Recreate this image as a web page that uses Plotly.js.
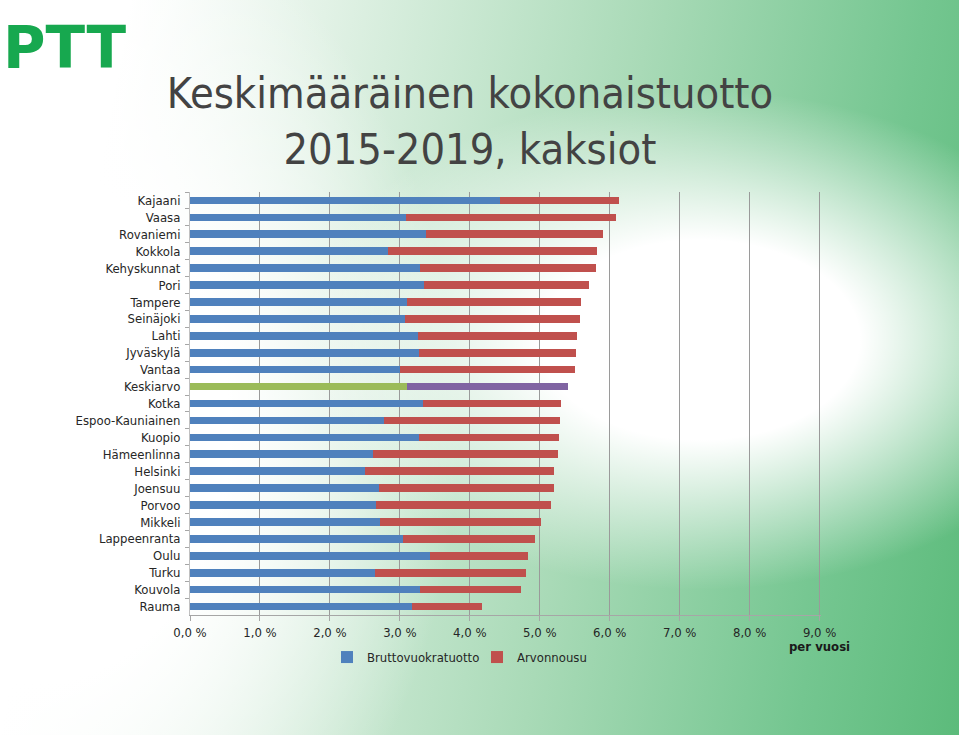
<!DOCTYPE html>
<html>
<head>
<meta charset="utf-8">
<script src="https://cdn.plot.ly/plotly-3.0.1.min.js"></script>
<style>
  html, body { margin: 0; padding: 0; }
  body {
    width: 959px; height: 735px; overflow: hidden;
    background:
      radial-gradient(ellipse 400px 250px at 700px 340px, rgba(255,255,255,1) 40%, rgba(255,255,255,0) 100%),
      radial-gradient(ellipse 420px 560px at 40px 430px, rgba(255,255,255,1) 45%, rgba(255,255,255,0) 100%),
      linear-gradient(100deg, #ffffff 12%, #e2f2e6 30%, #a9dab7 60%, #74c690 85%, #5cbb7b 100%);
  }
  #chart { width: 959px; height: 735px; }
</style>
</head>
<body>
<div id="chart"></div>
<script>
// cities, top to bottom
var cities = ['Kajaani', 'Vaasa', 'Rovaniemi', 'Kokkola', 'Kehyskunnat', 'Pori', 'Tampere',
    'Seinäjoki', 'Lahti', 'Jyväskylä', 'Vantaa', 'Keskiarvo', 'Kotka', 'Espoo-Kauniainen',
    'Kuopio', 'Hämeenlinna', 'Helsinki', 'Joensuu', 'Porvoo', 'Mikkeli', 'Lappeenranta',
    'Oulu', 'Turku', 'Kouvola', 'Rauma'];

// gross rental yield, % per year
var vuokratuotto = [4.43, 3.09, 3.37, 2.83, 3.29, 3.34, 3.10, 3.07, 3.26, 3.27, 3.00, 3.10, 3.33,
    2.78, 3.27, 2.61, 2.50, 2.70, 2.66, 2.72, 3.05, 3.43, 2.65, 3.29, 3.18];

// value increase, % per year
var arvonnousu = [1.70, 3.00, 2.53, 2.99, 2.51, 2.36, 2.49, 2.50, 2.27, 2.25, 2.51, 2.30, 1.98,
    2.51, 2.00, 2.65, 2.70, 2.50, 2.50, 2.30, 1.88, 1.40, 2.16, 1.44, 1.00];

var xTicks = [0, 1, 2, 3, 4, 5, 6, 7, 8, 9];
var xTickText = ['0,0 %', '1,0 %', '2,0 %', '3,0 %', '4,0 %', '5,0 %', '6,0 %', '7,0 %', '8,0 %', '9,0 %'];

// Keskiarvo gets its own colours
var blueCols = cities.map(function(c) { return c == 'Keskiarvo' ? '#9bbb59' : '#4f81bd'; });
var redCols = cities.map(function(c) { return c == 'Keskiarvo' ? '#8064a2' : '#c0504d'; });

var data = [
    {
        type: 'bar', orientation: 'h',
        name: 'Bruttovuokratuotto',
        y: cities, x: vuokratuotto,
        marker: { color: blueCols },
        hoverinfo: 'skip'
    },
    {
        type: 'bar', orientation: 'h',
        name: 'Arvonnousu',
        y: cities, x: arvonnousu,
        marker: { color: redCols },
        hoverinfo: 'skip'
    }
];

var tickFont = { family: '"DejaVu Sans Condensed", "Liberation Sans Narrow", Arial, sans-serif', size: 13, color: '#262626' };

var layout = {
    width: 959, height: 735,
    paper_bgcolor: 'rgba(0,0,0,0)',
    plot_bgcolor: 'rgba(0,0,0,0)',
    margin: { l: 190, r: 138, t: 192, b: 120 },
    barmode: 'stack',
    bargap: 0.55,
    showlegend: true,
    title: {
        text: 'Keskimääräinen kokonaistuotto<br>2015-2019, kaksiot',
        font: { family: '"DejaVu Sans Condensed", "Liberation Sans Narrow", sans-serif', size: 43, color: '#434343' },
        xref: 'container', x: 0.49, xanchor: 'center',
        yref: 'container', y: 0.853, yanchor: 'top'
    },
    xaxis: {
        range: [0, 9.02],
        tickvals: xTicks, ticktext: xTickText,
        tickfont: tickFont,
        showgrid: true, gridcolor: '#9a9a9a', gridwidth: 1,
        zeroline: false,
        showline: true, linecolor: '#a6a6a6', linewidth: 1,
        ticks: 'outside', ticklen: 5, tickcolor: '#a6a6a6'
    },
    yaxis: {
        type: 'category',
        categoryorder: 'array', categoryarray: cities,
        autorange: 'reversed',
        tickfont: tickFont,
        showgrid: false, zeroline: false,
        showline: true, linecolor: '#c0c0c0', linewidth: 1,
        ticks: 'outside', ticklen: 4, tickcolor: '#a6a6a6',
        tickson: 'boundaries',
        ticklabelstandoff: 6
    },
    legend: {
        orientation: 'h',
        xref: 'container', x: 0.341, xanchor: 'left',
        yref: 'container', y: 0.106, yanchor: 'middle',
        font: tickFont,
        itemwidth: 30,
        entrywidth: 105, entrywidthmode: 'pixels',
        bgcolor: 'rgba(0,0,0,0)',
        traceorder: 'normal'
    },
    annotations: [
        {
            text: '<b>per vuosi</b>',
            xref: 'paper', yref: 'paper', x: 0.998, y: -0.075,
            xanchor: 'center', yanchor: 'middle', showarrow: false,
            font: { family: tickFont.family, size: 13, color: '#1a1a1a' }
        },
        {
            text: '<b>PTT</b>',
            xref: 'paper', yref: 'paper', x: -0.3, y: 1.34,
            xanchor: 'left', yanchor: 'middle', showarrow: false,
            font: { family: '"DejaVu Sans", sans-serif', size: 58, color: '#17a84f' }
        }
    ]
};

Plotly.newPlot('chart', data, layout, { displayModeBar: false, staticPlot: true });
</script>
</body>
</html>
